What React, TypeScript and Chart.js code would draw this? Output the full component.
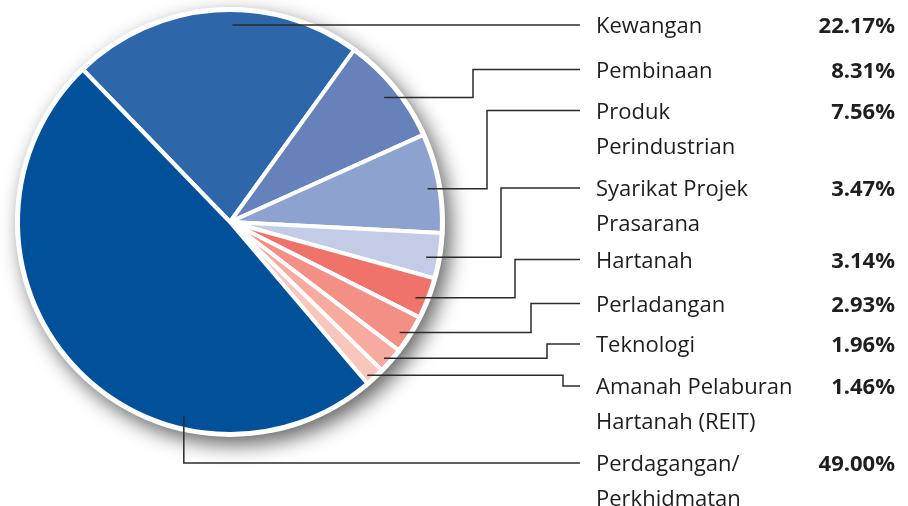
import React, { useEffect, useRef } from "react";
import { Chart, registerables } from "chart.js";

Chart.register(...registerables);

const categories: string[][] = [
  ["Kewangan"],
  ["Pembinaan"],
  ["Produk", "Perindustrian"],
  ["Syarikat Projek", "Prasarana"],
  ["Hartanah"],
  ["Perladangan"],
  ["Teknologi"],
  ["Amanah Pelaburan", "Hartanah (REIT)"],
  ["Perdagangan/", "Perkhidmatan"],
];

const shares: number[] = [22.17, 8.31, 7.56, 3.47, 3.14, 2.93, 1.96, 1.46, 49.0];

const sliceColors: string[] = [
  "#2d66a9",
  "#6781bb",
  "#8ea2cf",
  "#c3cbe6",
  "#f0736b",
  "#f48f86",
  "#f6aaa0",
  "#f9c6bd",
  "#01509a",
];

// leader layout: anchor fraction along slice, radius fraction, elbow x, label line y
const anchorFrac = [0.56, 0.51, 0.54, 0.58, 0.6, 0.6, 0.6, 0.72, 0.305];
const anchorRad = [0.93, 0.935, 0.945, 0.94, 0.945, 0.955, 0.97, 0.97, 0.94];
const elbowX: (number | null)[] = [null, 473, 487, 501, 515, 531, 547, 563, null];
const labelY = [25, 69.5, 110.5, 188, 259.5, 303.5, 344, 386, 463];

const LINE_END = 580;
const TEXT_X = 596;
const PCT_X = 895;
const FONT = '"Open Sans", "Noto Sans", sans-serif';

const decorPlugin = {
  id: "decor",
  beforeDatasetsDraw(chart: any) {
    const arcs = chart.getDatasetMeta(0).data;
    if (!arcs.length) return;
    const a = arcs[0];
    const ctx = chart.ctx;
    ctx.save();
    ctx.shadowColor = "rgba(0,0,0,0.6)";
    ctx.shadowBlur = 20;
    ctx.shadowOffsetX = 6;
    ctx.shadowOffsetY = 8;
    ctx.fillStyle = "#ffffff";
    ctx.beginPath();
    ctx.arc(a.x, a.y, a.outerRadius + 3, 0, Math.PI * 2);
    ctx.fill();
    ctx.restore();
  },
  afterDatasetsDraw(chart: any) {
    const arcs = chart.getDatasetMeta(0).data;
    const ctx = chart.ctx;
    ctx.save();
    ctx.strokeStyle = "#2b2b2b";
    ctx.lineWidth = 1.5;
    arcs.forEach((arc: any, i: number) => {
      const ang = arc.startAngle + anchorFrac[i] * (arc.endAngle - arc.startAngle);
      const r = arc.outerRadius * anchorRad[i];
      const sx = arc.x + r * Math.cos(ang);
      const sy = arc.y + r * Math.sin(ang);
      const ly = labelY[i];
      ctx.beginPath();
      if (i === arcs.length - 1) {
        ctx.moveTo(sx, sy);
        ctx.lineTo(sx, ly);
        ctx.lineTo(LINE_END, ly);
      } else if (elbowX[i] === null) {
        ctx.moveTo(sx, ly);
        ctx.lineTo(LINE_END, ly);
      } else {
        const ex = elbowX[i] as number;
        ctx.moveTo(sx, sy);
        ctx.lineTo(ex, sy);
        ctx.lineTo(ex, ly);
        ctx.lineTo(LINE_END, ly);
      }
      ctx.stroke();

      ctx.fillStyle = "#1e1e1e";
      ctx.textBaseline = "alphabetic";
      ctx.font = `400 22px ${FONT}`;
      ctx.textAlign = "left";
      categories[i].forEach((t, k) => {
        ctx.fillText(t, TEXT_X, ly + 8 + k * 35);
      });
      ctx.font = `700 22px ${FONT}`;
      ctx.textAlign = "right";
      ctx.fillText(shares[i].toFixed(2) + "%", PCT_X, ly + 8);
    });
    ctx.restore();
  },
};

export default function App() {
  const ref = useRef<HTMLCanvasElement>(null);
  useEffect(() => {
    if (!ref.current) return;
    const chart = new Chart(ref.current, {
      type: "pie",
      data: {
        labels: categories.map((c) => c.join(" ")),
        datasets: [
          {
            data: shares,
            backgroundColor: sliceColors,
            borderColor: "#ffffff",
            borderWidth: 4,
            hoverOffset: 0,
          },
        ],
      },
      options: {
        responsive: false,
        animation: false,
        rotation: -44,
        layout: { padding: { left: 16, top: 8, right: 464, bottom: 70 } },
        plugins: {
          legend: { display: false },
          tooltip: { enabled: false },
        },
        events: [],
      },
      plugins: [decorPlugin],
    });
    return () => chart.destroy();
  }, []);
  return (
    <div style={{ position: "fixed", left: 0, top: 0, width: 908, height: 506, background: "#fff" }}>
      <canvas ref={ref} width={908} height={506} />
    </div>
  );
}
